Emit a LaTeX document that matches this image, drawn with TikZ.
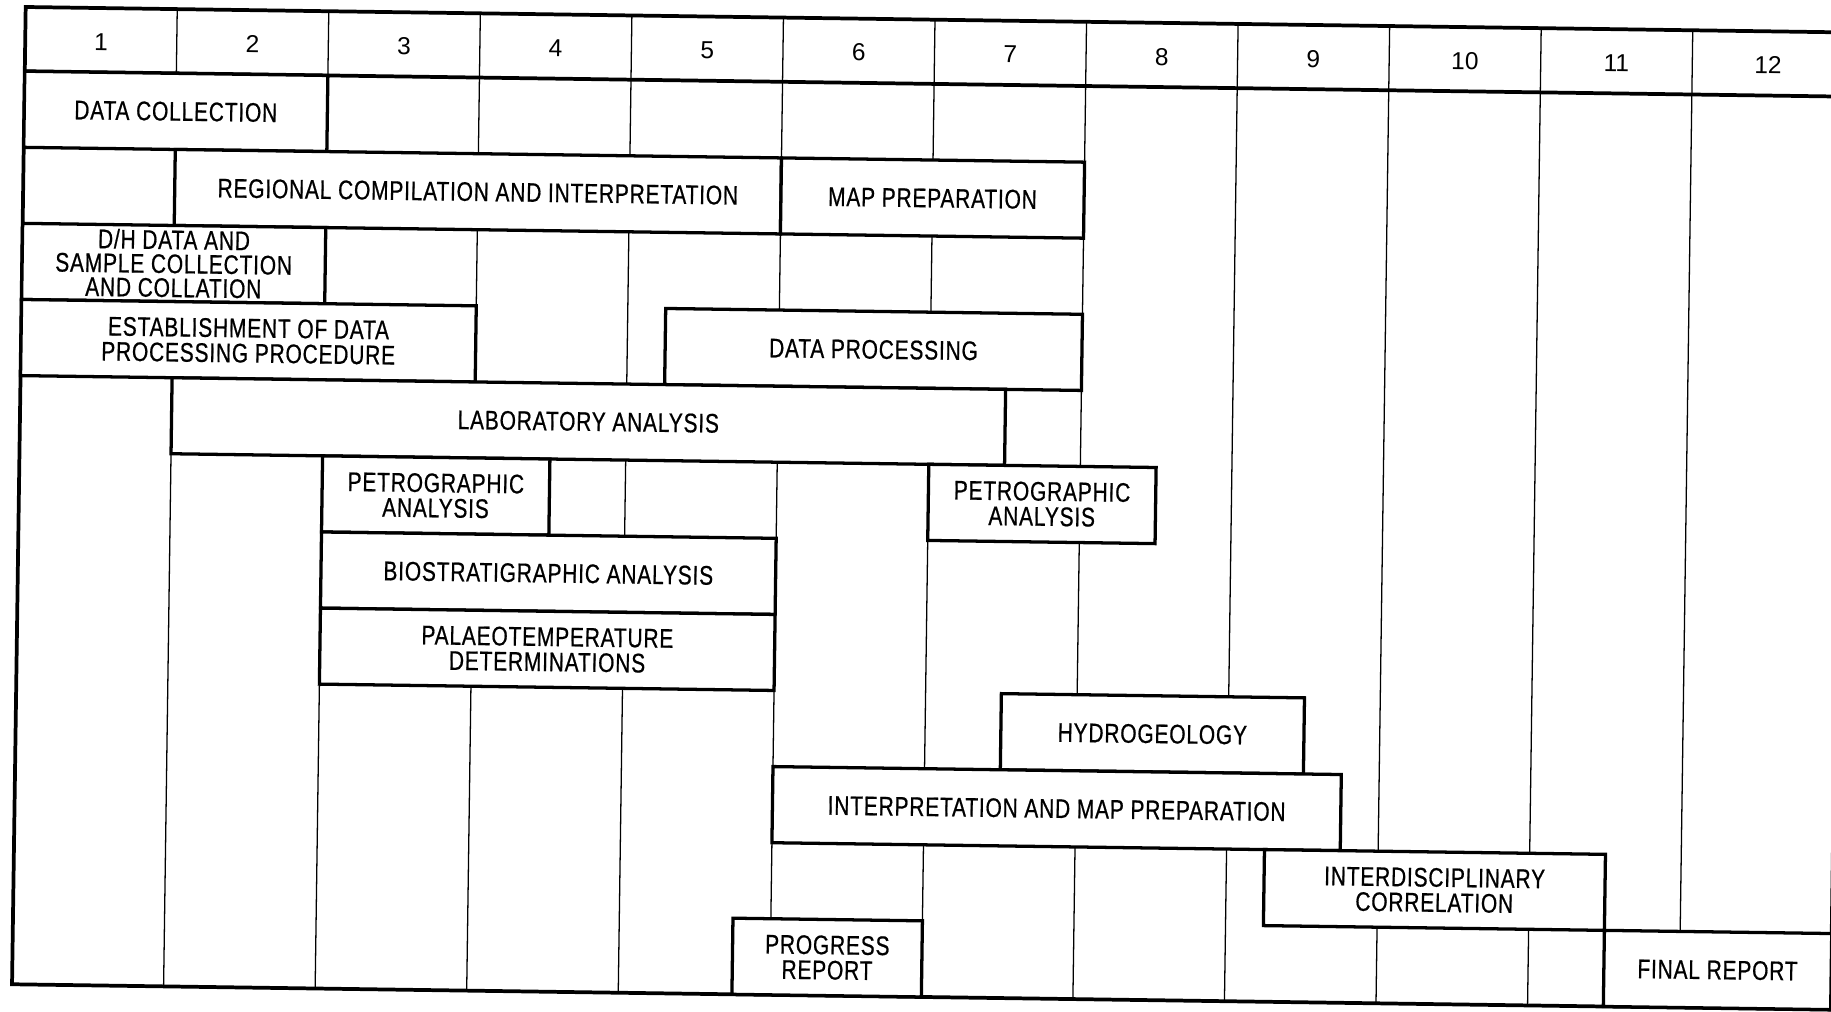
\documentclass[tikz,border=0pt]{standalone}
\usepackage{fontspec}
\setmainfont{Liberation Sans}
\newfontfamily\barfont[FakeStretch=0.78,LetterSpace=3,FakeBold=0.6]{Liberation Sans}
\begin{document}
\begin{tikzpicture}[x=1pt,y=1pt]
	\tikzstyle{gridline} = [line width=1.1pt]
	\tikzstyle{frame} = [line width=3.2pt]
	\tikzstyle{bar} = [draw,fill=white,line width=2.8pt]
	\tikzstyle{month} = [font=\fontsize{21}{21}\selectfont]
	\tikzstyle{task} = [align=center,font=\barfont\fontsize{23}{21.5}\selectfont]
	\useasboundingbox (-22,6) rectangle (1546,-860);
	\begin{scope}[y=-1pt,rotate=-0.8,transform shape]
		% months
		\foreach \i in {1,...,11}
			\draw[gridline] (\i*129.8,0) -- (\i*129.8,837);
		\foreach \i in {1,...,12}
			\node[month] (m\i) at ({(\i-0.5)*129.8},29) {\i};
		\draw[frame] (0,55) -- (1557.6,55);
		\draw[frame] (0,0) rectangle (1557.6,837);
		% tasks, row by row
		\draw[bar] (0,55) rectangle (259.6,120.2);
		\node[task] (collect) at (129.8,87.6) {DATA COLLECTION};
		\draw[bar] (129.8,120.2) rectangle (649,185.3);
		\node[task] (regional) at (389.4,152.8) {REGIONAL COMPILATION AND INTERPRETATION};
		\draw[bar] (649,120.2) rectangle (908.6,185.3);
		\node[task] (mapprep) at (778.8,152.8) {MAP PREPARATION};
		\draw[bar] (0,185.3) rectangle (259.6,250.5);
		\node[task,font=\barfont\fontsize{23}{20.5}\selectfont] (dhdata) at (129.8,217.9) {D/H DATA AND\\SAMPLE COLLECTION\\AND COLLATION};
		\draw[bar] (0,250.5) rectangle (389.4,315.7);
		\node[task] (procedure) at (194.7,283.1) {ESTABLISHMENT OF DATA\\PROCESSING PROCEDURE};
		\draw[bar] (551.65,250.5) rectangle (908.6,315.7);
		\node[task] (processing) at (730.1,283.1) {DATA PROCESSING};
		\draw[bar] (129.8,315.7) rectangle (843.7,380.8);
		\node[task] (lab) at (486.75,348.3) {LABORATORY ANALYSIS};
		\draw[bar] (259.6,380.8) rectangle (454.3,446);
		\node[task] (petroA) at (356.95,413.4) {PETROGRAPHIC\\ANALYSIS};
		\draw[bar] (778.8,380.8) rectangle (973.5,446);
		\node[task] (petroB) at (876.15,413.4) {PETROGRAPHIC\\ANALYSIS};
		\draw[bar] (259.6,446) rectangle (649,511.2);
		\node[task] (biostrat) at (454.3,478.6) {BIOSTRATIGRAPHIC ANALYSIS};
		\draw[bar] (259.6,511.2) rectangle (649,576.3);
		\node[task] (palaeo) at (454.3,543.8) {PALAEOTEMPERATURE\\DETERMINATIONS};
		\draw[bar] (843.7,576.3) rectangle (1103.3,641.5);
		\node[task] (hydro) at (973.5,608.9) {HYDROGEOLOGY};
		\draw[bar] (649,641.5) rectangle (1135.75,706.7);
		\node[task] (interp) at (892.4,674.1) {INTERPRETATION AND MAP PREPARATION};
		\draw[bar] (1070.85,706.7) rectangle (1362.9,771.8);
		\node[task] (interdisc) at (1216.9,739.3) {INTERDISCIPLINARY\\CORRELATION};
		\draw[bar] (616.55,771.8) rectangle (778.8,837);
		\node[task] (progress) at (697.7,804.4) {PROGRESS\\REPORT};
		\draw[bar] (1362.9,771.8) rectangle (1557.6,837);
		\node[task] (final) at (1460.25,804.4) {FINAL REPORT};
	\end{scope}
\end{tikzpicture}
\end{document}
